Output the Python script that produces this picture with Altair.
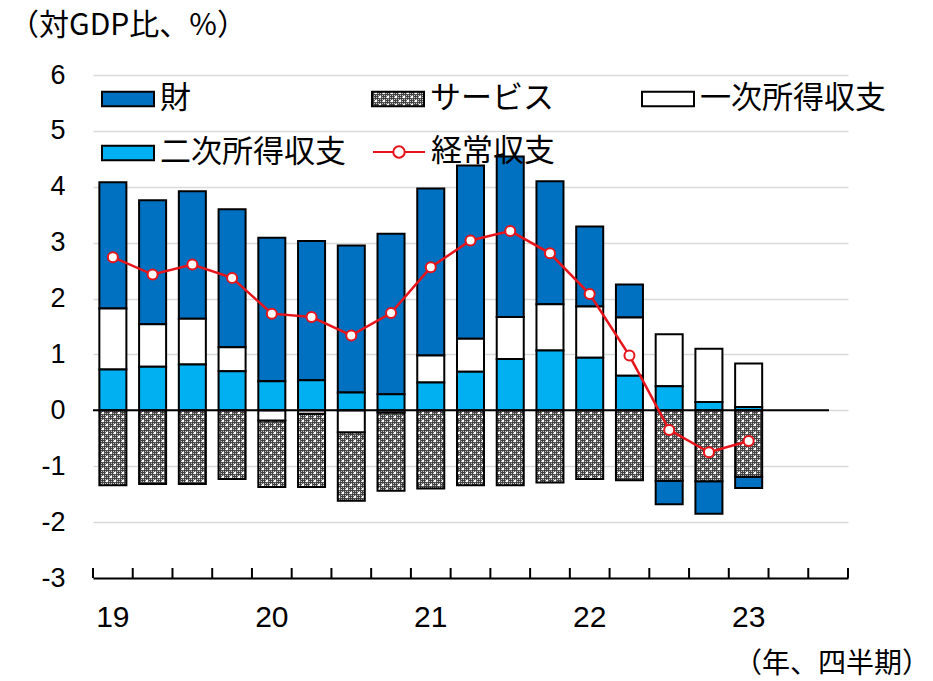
import altair as alt
import pandas as pd
import jinja2

# ---------------- data ----------------
quarters = ["19Q1", "19Q2", "19Q3", "19Q4", "20Q1", "20Q2", "20Q3", "20Q4",
            "21Q1", "21Q2", "21Q3", "21Q4", "22Q1", "22Q2", "22Q3", "22Q4",
            "23Q1", "23Q2", "23Q3"]
data_quarters = quarters[:17]

goods = [2.26, 2.22, 2.28, 2.47, 2.57, 2.49, 2.63, 2.87, 2.99, 3.10, 2.87, 2.20,
         1.43, 0.59, -0.42, -0.58, -0.20]
services = [-1.34, -1.32, -1.32, -1.23, -1.19, -1.31, -1.23, -1.40, -1.40, -1.34,
            -1.34, -1.29, -1.23, -1.25, -1.26, -1.27, -1.19]
primary = [1.09, 0.76, 0.82, 0.43, -0.18, -0.06, -0.39, -0.04, 0.48, 0.59, 0.75,
           0.83, 0.92, 1.04, 0.93, 0.95, 0.78]
secondary = [0.73, 0.78, 0.82, 0.70, 0.52, 0.54, 0.32, 0.29, 0.50, 0.69, 0.92,
             1.07, 0.94, 0.62, 0.43, 0.15, 0.06]
current = [2.74, 2.43, 2.61, 2.37, 1.73, 1.67, 1.34, 1.74, 2.56, 3.04, 3.21, 2.81,
           2.08, 0.98, -0.35, -0.75, -0.55]

series_names = ["財", "サービス", "一次所得収支", "二次所得収支"]
stack_order = {"二次所得収支": 1, "一次所得収支": 2, "サービス": 3, "財": 4}
line_name = "経常収支"
y_ticks = [-3, -2, -1, 0, 1, 2, 3, 4, 5, 6]
tick_index = list(range(len(quarters) + 1))

rows = []
for i, q in enumerate(data_quarters):
    for name, vals in zip(series_names, [goods, services, primary, secondary]):
        rows.append({"q": q, "s": name, "v": vals[i], "o": stack_order[name]})
bar_df = pd.DataFrame(rows)
line_df = pd.DataFrame({"q": data_quarters, "v": current, "s": line_name})

# ---------------- style ----------------
W, H = 755, 503
JP = "Noto Sans CJK JP"
NUM = "Liberation Sans"
RED = "#E8141B"
RECT_PATH = "M-1,-0.28L1,-0.28L1,0.28L-1,0.28Z"
LINE_PATH = ("M-1,0L-0.22,0M0.22,0L1,0M-0.22,0A0.22,0.22,0,1,1,0.22,0"
             "A0.22,0.22,0,1,1,-0.22,0Z")

SVG_DEFS = (
    '<svg width="0" height="0" style="position:absolute;left:0;top:0">'
    '<defs>'
    '<pattern id="finechk" width="2" height="2" patternUnits="userSpaceOnUse">'
    '<rect width="2" height="2" fill="#404040"/>'
    '<rect width="1" height="1" fill="#c8c8c8"/></pattern>'
    '<pattern id="dots" width="8" height="8" patternUnits="userSpaceOnUse">'
    '<rect width="8" height="8" fill="url(#finechk)"/>'
    '<circle cx="2" cy="2" r="1.3" fill="#ffffff"/>'
    '<circle cx="6" cy="6" r="1.3" fill="#ffffff"/></pattern>'
    '</defs></svg>'
)


def build(service_fill):
    colors = ["#0070C0", service_fill, "#FFFFFF", "#00B0F0"]
    x_axis = alt.Axis(
        title=None, labelAngle=0, ticks=False, grid=False,
        domain=True, domainColor="black", domainWidth=2,
        labelExpr="indexof(datum.value,'Q1') >= 0 ? substring(datum.value,0,2) : ''",
        labelFont=NUM, labelFontSize=30, labelColor="black", labelPadding=24,
        labelOverlap=False,
    )
    x_enc = alt.X("q:N", scale=alt.Scale(domain=quarters, paddingInner=0.32,
                                         paddingOuter=0.16), axis=x_axis)
    y_axis = alt.Axis(
        title=None, values=y_ticks, grid=True, gridColor="#d9d9d9", gridWidth=1.3,
        domain=False, ticks=False, labelFont=NUM, labelFontSize=27,
        labelColor="black", labelPadding=28,
        labelExpr="datum.value < 0 ? '-' + abs(datum.value) : '' + datum.value",
    )
    y_scale = alt.Scale(domain=[-3, 6], nice=False, zero=False)

    bars = alt.Chart(bar_df).mark_bar(stroke="black", strokeWidth=2, opacity=1).encode(
        x=x_enc,
        y=alt.Y("v:Q", stack="zero", scale=y_scale, axis=y_axis),
        fill=alt.Fill("s:N", scale=alt.Scale(domain=series_names, range=colors),
                      legend=alt.Legend(
                          title=None, orient="none", legendX=8, legendY=-3,
                          direction="horizontal", columns=3, gridAlign="all",
                          columnPadding=22, rowPadding=12,
                          padding=0, symbolType=RECT_PATH, symbolSize=2704,
                          symbolStrokeColor="black", symbolStrokeWidth=2,
                          symbolOpacity=1, labelFont=JP, labelFontSize=31,
                          labelColor="black", labelLimit=400, labelOffset=5)),
        order=alt.Order("o:Q", sort="ascending"),
    )

    zero = alt.Chart(pd.DataFrame({"z": [0]})).mark_rule(
        color="black", strokeWidth=2).encode(
        y=alt.Y("z:Q", scale=y_scale), x=alt.value(0), x2=alt.value(736))

    line = alt.Chart(line_df).mark_line(strokeWidth=2.5).encode(
        x=alt.X("q:N"),
        y=alt.Y("v:Q", scale=y_scale),
        stroke=alt.Stroke("s:N", scale=alt.Scale(domain=[line_name], range=[RED]),
                          legend=alt.Legend(
                              title=None, orient="none", legendX=279, legendY=50,
                              padding=0, symbolType=LINE_PATH, symbolSize=2704,
                              symbolStrokeWidth=2, symbolFillColor="white",
                              labelFont=JP, labelFontSize=31, labelColor="black",
                              labelLimit=400, labelOffset=5)),
    )
    points = alt.Chart(line_df).mark_point(
        shape="circle", filled=True, fill="white", stroke=RED, strokeWidth=2,
        size=100, opacity=1).encode(x=alt.X("q:N"), y=alt.Y("v:Q", scale=y_scale))

    title_txt = alt.Chart(pd.DataFrame({"t": ["（対GDP比、%）"]})).mark_text(
        font=JP, fontSize=30, align="left", baseline="middle", color="black").encode(
        text="t:N", x=alt.value(-84), y=alt.value(-49))
    note_txt = alt.Chart(pd.DataFrame({"t": ["（年、四半期）"]})).mark_text(
        font=JP, fontSize=28, align="right", baseline="middle", color="black").encode(
        text="t:N", x=alt.value(837), y=alt.value(590))

    main = alt.layer(bars, zero, line, points, title_txt, note_txt)

    ticks = alt.Chart(pd.DataFrame({"t": tick_index})).mark_rule(
        color="black", strokeWidth=2).encode(
        x=alt.X("t:Q", scale=alt.Scale(domain=[0, len(quarters)], nice=False,
                                       zero=False), axis=None),
        y=alt.value(H), y2=alt.value(H - 10))

    chart = alt.layer(main, ticks).resolve_scale(x="independent").properties(
        width=W, height=H, autosize="none",
        padding={"left": 93, "top": 75, "right": 85, "bottom": 103},
        background="white",
    ).configure_view(stroke=None)
    return chart


def make_template():
    from altair.utils import html as ahtml
    base = ahtml.TEMPLATES["standard"]
    t = jinja2.Template("x")

    def render(*args, **kw):
        out = base.render(*args, **kw)
        if "<body>" in out:
            return out.replace("<body>", "<body>\n" + SVG_DEFS, 1)
        return out.replace("<div", SVG_DEFS + "\n<div", 1)

    t.render = render
    return t


EMBED = {"renderer": "svg", "actions": False}
try:
    tmpl = make_template()
    chart = build("url(#dots)")
    chart.save("out.html", embed_options=EMBED, template=tmpl)
except Exception:
    chart = build("#6a6a6a")
    chart.save("out.html", embed_options=EMBED)
